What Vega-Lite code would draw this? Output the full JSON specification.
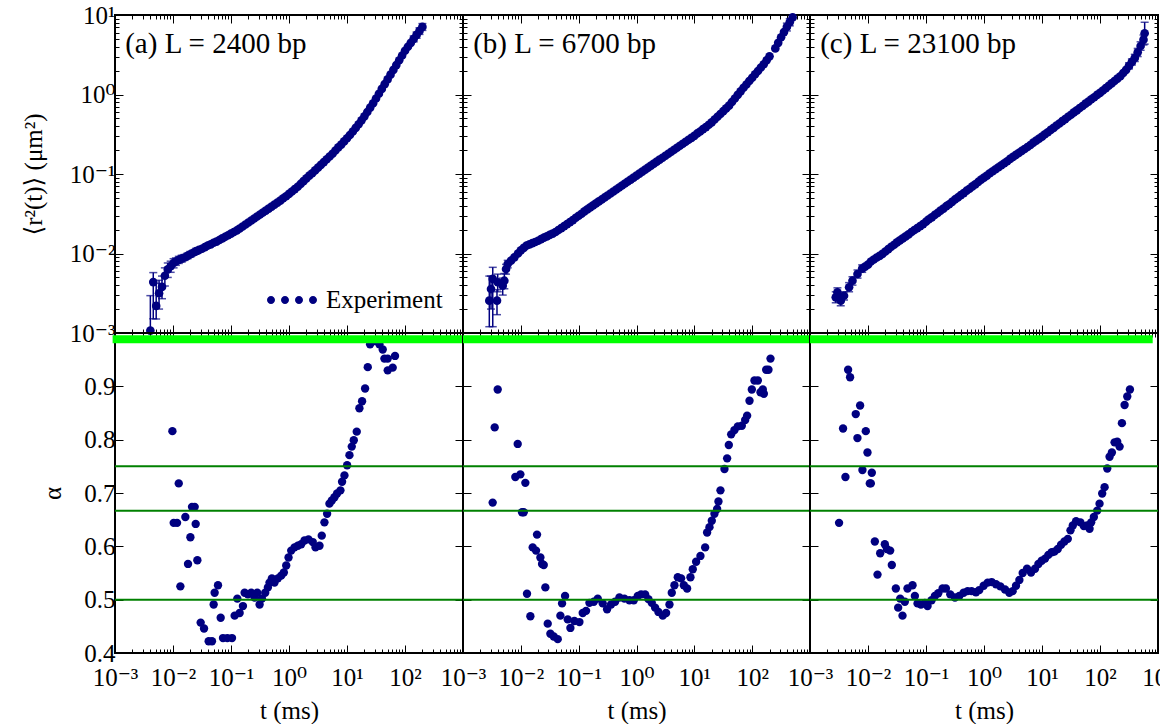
{
  "$schema": "https://vega.github.io/schema/vega-lite/v6.json",
  "background": "white",
  "padding": {"left": 20, "top": 2, "right": 0, "bottom": 0},
  "config": {
    "view": {"stroke": "black", "strokeWidth": 2},
    "font": "Liberation Serif",
    "axis": {
      "domain": false, "grid": false,
      "labelFont": "Liberation Serif, DejaVu Serif", "labelFontSize": 25, "labelColor": "black",
      "titleFont": "Liberation Serif, DejaVu Serif, DejaVu Sans", "titleFontSize": 25, "titleFontWeight": "normal", "titleColor": "black",
      "tickColor": "black", "tickWidth": 1, "labelOverlap": false, "labelFlush": false, "labelBound": false,
      "labelPadding": 6, "titlePadding": 10
    }
  },
  "datasets": {
    "msd": [
      {"p":"a","t":0.00407,"r":0.00107},{"p":"a","t":0.00457,"r":0.00437},{"p":"a","t":0.00513,"r":0.00219},{"p":"a","t":0.00575,"r":0.00316},
      {"p":"a","t":0.00646,"r":0.0038},{"p":"a","t":0.00724,"r":0.00525},{"p":"a","t":0.00813,"r":0.00631},{"p":"a","t":0.00912,"r":0.00692},
      {"p":"a","t":0.01023,"r":0.00759},{"p":"a","t":0.01122,"r":0.00794},{"p":"a","t":0.01259,"r":0.00832},{"p":"a","t":0.01413,"r":0.00861},
      {"p":"a","t":0.01585,"r":0.00891},{"p":"a","t":0.01778,"r":0.00933},{"p":"a","t":0.01995,"r":0.00977},{"p":"a","t":0.02239,"r":0.01023},
      {"p":"a","t":0.02512,"r":0.01072},{"p":"a","t":0.02818,"r":0.01109},{"p":"a","t":0.03162,"r":0.01148},{"p":"a","t":0.03548,"r":0.01202},
      {"p":"a","t":0.03981,"r":0.01259},{"p":"a","t":0.04467,"r":0.01303},{"p":"a","t":0.05012,"r":0.01365},{"p":"a","t":0.05623,"r":0.01413},
      {"p":"a","t":0.0631,"r":0.01479},{"p":"a","t":0.07079,"r":0.01549},{"p":"a","t":0.07943,"r":0.01622},{"p":"a","t":0.08913,"r":0.01698},
      {"p":"a","t":0.1,"r":0.01778},{"p":"a","t":0.1122,"r":0.01862},{"p":"a","t":0.1259,"r":0.0195},{"p":"a","t":0.1413,"r":0.02065},
      {"p":"a","t":0.1585,"r":0.02188},{"p":"a","t":0.1778,"r":0.02317},{"p":"a","t":0.1995,"r":0.02455},{"p":"a","t":0.2239,"r":0.026},
      {"p":"a","t":0.2512,"r":0.02754},{"p":"a","t":0.2818,"r":0.02917},{"p":"a","t":0.3162,"r":0.0309},{"p":"a","t":0.3548,"r":0.03273},
      {"p":"a","t":0.3981,"r":0.03467},{"p":"a","t":0.4467,"r":0.03673},{"p":"a","t":0.5012,"r":0.0389},{"p":"a","t":0.5623,"r":0.04121},
      {"p":"a","t":0.631,"r":0.04365},{"p":"a","t":0.7079,"r":0.04624},{"p":"a","t":0.7943,"r":0.04955},{"p":"a","t":0.8913,"r":0.05248},
      {"p":"a","t":1,"r":0.05623},{"p":"a","t":1.122,"r":0.06026},{"p":"a","t":1.259,"r":0.06457},{"p":"a","t":1.413,"r":0.06918},
      {"p":"a","t":1.585,"r":0.07499},{"p":"a","t":1.778,"r":0.08128},{"p":"a","t":1.995,"r":0.0881},{"p":"a","t":2.239,"r":0.0955},
      {"p":"a","t":2.512,"r":0.1023},{"p":"a","t":2.818,"r":0.1109},{"p":"a","t":3.162,"r":0.1202},{"p":"a","t":3.548,"r":0.1303},
      {"p":"a","t":3.981,"r":0.1413},{"p":"a","t":4.467,"r":0.1531},{"p":"a","t":5.012,"r":0.166},{"p":"a","t":5.623,"r":0.1799},
      {"p":"a","t":6.31,"r":0.1972},{"p":"a","t":7.079,"r":0.2163},{"p":"a","t":7.943,"r":0.2344},{"p":"a","t":8.913,"r":0.257},
      {"p":"a","t":10,"r":0.2818},{"p":"a","t":11.22,"r":0.309},{"p":"a","t":12.59,"r":0.3428},{"p":"a","t":14.13,"r":0.3802},
      {"p":"a","t":15.85,"r":0.4217},{"p":"a","t":17.78,"r":0.4732},{"p":"a","t":19.95,"r":0.5309},{"p":"a","t":22.39,"r":0.6026},
      {"p":"a","t":25.12,"r":0.6839},{"p":"a","t":28.18,"r":0.7762},{"p":"a","t":31.62,"r":0.8913},{"p":"a","t":35.48,"r":1.023},
      {"p":"a","t":39.81,"r":1.175},{"p":"a","t":44.67,"r":1.349},{"p":"a","t":50.12,"r":1.549},{"p":"a","t":56.23,"r":1.778},
      {"p":"a","t":63.1,"r":2.042},{"p":"a","t":70.79,"r":2.344},{"p":"a","t":79.43,"r":2.692},{"p":"a","t":89.13,"r":3.09},
      {"p":"a","t":100,"r":3.548},{"p":"a","t":112.2,"r":3.981},{"p":"a","t":125.9,"r":4.467},{"p":"a","t":141.3,"r":5.012},
      {"p":"a","t":158.5,"r":5.623},{"p":"a","t":177.8,"r":6.31},{"p":"a","t":199.5,"r":7.079},

      {"p":"b","t":0.00285,"r":0.00255},{"p":"b","t":0.00305,"r":0.00357},{"p":"b","t":0.00327,"r":0.00479},{"p":"b","t":0.00387,"r":0.00255},
      {"p":"b","t":0.00398,"r":0.00435},{"p":"b","t":0.00486,"r":0.00394},{"p":"b","t":0.00519,"r":0.00455},{"p":"b","t":0.00555,"r":0.00638},
      {"p":"b","t":0.00593,"r":0.00738},{"p":"b","t":0.00676,"r":0.00813},{"p":"b","t":0.00773,"r":0.00895},{"p":"b","t":0.00891,"r":0.01},
      {"p":"b","t":0.01,"r":0.01096},{"p":"b","t":0.01122,"r":0.01175},{"p":"b","t":0.01259,"r":0.01259},{"p":"b","t":0.01413,"r":0.01303},
      {"p":"b","t":0.01585,"r":0.01349},{"p":"b","t":0.01778,"r":0.01396},{"p":"b","t":0.01995,"r":0.01445},{"p":"b","t":0.02239,"r":0.01514},
      {"p":"b","t":0.02512,"r":0.01585},{"p":"b","t":0.02818,"r":0.01641},{"p":"b","t":0.03162,"r":0.01718},{"p":"b","t":0.03548,"r":0.01778},
      {"p":"b","t":0.03981,"r":0.01862},{"p":"b","t":0.04467,"r":0.01972},{"p":"b","t":0.05012,"r":0.02089},{"p":"b","t":0.05623,"r":0.02213},
      {"p":"b","t":0.0631,"r":0.02344},{"p":"b","t":0.07079,"r":0.02483},{"p":"b","t":0.07943,"r":0.0263},{"p":"b","t":0.08913,"r":0.02818},
      {"p":"b","t":0.1,"r":0.02985},{"p":"b","t":0.1122,"r":0.03162},{"p":"b","t":0.1259,"r":0.03388},{"p":"b","t":0.1413,"r":0.03589},
      {"p":"b","t":0.1585,"r":0.03802},{"p":"b","t":0.1778,"r":0.04027},{"p":"b","t":0.1995,"r":0.04266},{"p":"b","t":0.2239,"r":0.04519},
      {"p":"b","t":0.2512,"r":0.04786},{"p":"b","t":0.2818,"r":0.0507},{"p":"b","t":0.3162,"r":0.0537},{"p":"b","t":0.3548,"r":0.05689},
      {"p":"b","t":0.3981,"r":0.06026},{"p":"b","t":0.4467,"r":0.06383},{"p":"b","t":0.5012,"r":0.06761},{"p":"b","t":0.5623,"r":0.07161},
      {"p":"b","t":0.631,"r":0.07586},{"p":"b","t":0.7079,"r":0.08035},{"p":"b","t":0.7943,"r":0.08511},{"p":"b","t":0.8913,"r":0.09016},
      {"p":"b","t":1,"r":0.0955},{"p":"b","t":1.122,"r":0.1012},{"p":"b","t":1.259,"r":0.1072},{"p":"b","t":1.413,"r":0.1135},
      {"p":"b","t":1.585,"r":0.1202},{"p":"b","t":1.778,"r":0.1274},{"p":"b","t":1.995,"r":0.1349},{"p":"b","t":2.239,"r":0.1429},
      {"p":"b","t":2.512,"r":0.1514},{"p":"b","t":2.818,"r":0.1603},{"p":"b","t":3.162,"r":0.1698},{"p":"b","t":3.548,"r":0.1799},
      {"p":"b","t":3.981,"r":0.1905},{"p":"b","t":4.467,"r":0.2018},{"p":"b","t":5.012,"r":0.2138},{"p":"b","t":5.623,"r":0.2265},
      {"p":"b","t":6.31,"r":0.2399},{"p":"b","t":7.079,"r":0.2541},{"p":"b","t":7.943,"r":0.2692},{"p":"b","t":8.913,"r":0.2851},
      {"p":"b","t":10,"r":0.302},{"p":"b","t":11.22,"r":0.3236},{"p":"b","t":12.59,"r":0.3428},{"p":"b","t":14.13,"r":0.3673},
      {"p":"b","t":15.85,"r":0.389},{"p":"b","t":17.78,"r":0.4169},{"p":"b","t":19.95,"r":0.4467},{"p":"b","t":22.39,"r":0.4842},
      {"p":"b","t":25.12,"r":0.5248},{"p":"b","t":28.18,"r":0.5689},{"p":"b","t":31.62,"r":0.6166},{"p":"b","t":35.48,"r":0.6683},
      {"p":"b","t":39.81,"r":0.7244},{"p":"b","t":44.67,"r":0.8035},{"p":"b","t":50.12,"r":0.8913},{"p":"b","t":56.23,"r":0.9886},
      {"p":"b","t":63.1,"r":1.096},{"p":"b","t":70.79,"r":1.216},{"p":"b","t":79.43,"r":1.334},{"p":"b","t":89.13,"r":1.479},
      {"p":"b","t":100,"r":1.622},{"p":"b","t":112.2,"r":1.799},{"p":"b","t":125.9,"r":1.972},{"p":"b","t":141.3,"r":2.188},
      {"p":"b","t":158.5,"r":2.399},{"p":"b","t":177.8,"r":2.692},{"p":"b","t":199.5,"r":3.02},{"p":"b","t":251.2,"r":3.802},
      {"p":"b","t":281.8,"r":4.467},{"p":"b","t":316.2,"r":5.248},{"p":"b","t":354.8,"r":6.095},{"p":"b","t":398.1,"r":7.079},
      {"p":"b","t":446.7,"r":8.128},{"p":"b","t":501.2,"r":9.333},

      {"p":"c","t":0.00278,"r":0.00281},{"p":"c","t":0.00297,"r":0.00325},{"p":"c","t":0.00339,"r":0.00255},{"p":"c","t":0.00386,"r":0.00294},
      {"p":"c","t":0.00472,"r":0.00376},{"p":"c","t":0.0054,"r":0.00455},{"p":"c","t":0.00659,"r":0.00552},{"p":"c","t":0.00794,"r":0.00646},
      {"p":"c","t":0.00891,"r":0.00684},{"p":"c","t":0.01,"r":0.00724},{"p":"c","t":0.01122,"r":0.00794},{"p":"c","t":0.01259,"r":0.00841},
      {"p":"c","t":0.01413,"r":0.00891},{"p":"c","t":0.01585,"r":0.00933},{"p":"c","t":0.01778,"r":0.00989},{"p":"c","t":0.01995,"r":0.01059},
      {"p":"c","t":0.02239,"r":0.01135},{"p":"c","t":0.02512,"r":0.01216},{"p":"c","t":0.02818,"r":0.01288},{"p":"c","t":0.03162,"r":0.0138},
      {"p":"c","t":0.03548,"r":0.01462},{"p":"c","t":0.03981,"r":0.01549},{"p":"c","t":0.04467,"r":0.01641},{"p":"c","t":0.05012,"r":0.01738},
      {"p":"c","t":0.05623,"r":0.01862},{"p":"c","t":0.0631,"r":0.01972},{"p":"c","t":0.07079,"r":0.02089},{"p":"c","t":0.07943,"r":0.02213},
      {"p":"c","t":0.08913,"r":0.02344},{"p":"c","t":0.1,"r":0.02512},{"p":"c","t":0.1122,"r":0.02692},{"p":"c","t":0.1259,"r":0.02851},
      {"p":"c","t":0.1413,"r":0.03055},{"p":"c","t":0.1585,"r":0.03236},{"p":"c","t":0.1778,"r":0.03467},{"p":"c","t":0.1995,"r":0.03673},
      {"p":"c","t":0.2239,"r":0.03936},{"p":"c","t":0.2512,"r":0.04169},{"p":"c","t":0.2818,"r":0.04467},{"p":"c","t":0.3162,"r":0.04786},
      {"p":"c","t":0.3548,"r":0.0507},{"p":"c","t":0.3981,"r":0.05433},{"p":"c","t":0.4467,"r":0.05754},{"p":"c","t":0.5012,"r":0.06166},
      {"p":"c","t":0.5623,"r":0.06531},{"p":"c","t":0.631,"r":0.06998},{"p":"c","t":0.7079,"r":0.07413},{"p":"c","t":0.7943,"r":0.07943},
      {"p":"c","t":0.8913,"r":0.08511},{"p":"c","t":1,"r":0.09016},{"p":"c","t":1.122,"r":0.0955},{"p":"c","t":1.259,"r":0.1023},
      {"p":"c","t":1.413,"r":0.1084},{"p":"c","t":1.585,"r":0.1148},{"p":"c","t":1.778,"r":0.1216},{"p":"c","t":1.995,"r":0.1288},
      {"p":"c","t":2.239,"r":0.1365},{"p":"c","t":2.512,"r":0.1445},{"p":"c","t":2.818,"r":0.1549},{"p":"c","t":3.162,"r":0.1641},
      {"p":"c","t":3.548,"r":0.1738},{"p":"c","t":3.981,"r":0.1841},{"p":"c","t":4.467,"r":0.195},{"p":"c","t":5.012,"r":0.2065},
      {"p":"c","t":5.623,"r":0.2188},{"p":"c","t":6.31,"r":0.2317},{"p":"c","t":7.079,"r":0.2483},{"p":"c","t":7.943,"r":0.263},
      {"p":"c","t":8.913,"r":0.2786},{"p":"c","t":10,"r":0.2951},{"p":"c","t":11.22,"r":0.3162},{"p":"c","t":12.59,"r":0.335},
      {"p":"c","t":14.13,"r":0.3589},{"p":"c","t":15.85,"r":0.3802},{"p":"c","t":17.78,"r":0.4074},{"p":"c","t":19.95,"r":0.4315},
      {"p":"c","t":22.39,"r":0.4624},{"p":"c","t":25.12,"r":0.4898},{"p":"c","t":28.18,"r":0.5248},{"p":"c","t":31.62,"r":0.5559},
      {"p":"c","t":35.48,"r":0.5957},{"p":"c","t":39.81,"r":0.631},{"p":"c","t":44.67,"r":0.6761},{"p":"c","t":50.12,"r":0.7161},
      {"p":"c","t":56.23,"r":0.7674},{"p":"c","t":63.1,"r":0.8128},{"p":"c","t":70.79,"r":0.871},{"p":"c","t":79.43,"r":0.9226},
      {"p":"c","t":89.13,"r":0.9886},{"p":"c","t":100,"r":1.047},{"p":"c","t":112.2,"r":1.122},{"p":"c","t":125.9,"r":1.202},
      {"p":"c","t":141.3,"r":1.288},{"p":"c","t":158.5,"r":1.38},{"p":"c","t":177.8,"r":1.479},{"p":"c","t":199.5,"r":1.585},
      {"p":"c","t":223.9,"r":1.698},{"p":"c","t":251.2,"r":1.862},{"p":"c","t":281.8,"r":2.042},{"p":"c","t":316.2,"r":2.291},
      {"p":"c","t":354.8,"r":2.57},{"p":"c","t":398.1,"r":2.884},{"p":"c","t":446.7,"r":3.388},{"p":"c","t":501.2,"r":4.074},
      {"p":"c","t":562.3,"r":4.898},{"p":"c","t":588.8,"r":5.888}
    ],
    "err": [
      {"p":"a","t":0.00407,"lo":0.001,"hi":0.00295},{"p":"a","t":0.00457,"lo":0.00151,"hi":0.00575},{"p":"a","t":0.00513,"lo":0.0015,"hi":0.0042},
      {"p":"a","t":0.00575,"lo":0.002,"hi":0.0046},{"p":"a","t":0.00646,"lo":0.0027,"hi":0.0052},{"p":"a","t":0.00724,"lo":0.0039,"hi":0.0066},
      {"p":"a","t":0.00813,"lo":0.005,"hi":0.0076},{"p":"a","t":0.00912,"lo":0.0058,"hi":0.008},{"p":"a","t":0.01023,"lo":0.0066,"hi":0.0086},
      {"p":"a","t":0.01122,"lo":0.0071,"hi":0.0088},{"p":"a","t":0.01259,"lo":0.0075,"hi":0.0092},{"p":"a","t":0.01413,"lo":0.0078,"hi":0.0095},
      {"p":"a","t":0.01585,"lo":0.0082,"hi":0.0097},{"p":"a","t":0.01778,"lo":0.0086,"hi":0.0101},{"p":"a","t":0.01995,"lo":0.009,"hi":0.0106},
      {"p":"a","t":0.02239,"lo":0.0095,"hi":0.011},{"p":"a","t":0.02512,"lo":0.0099,"hi":0.0116},
      {"p":"a","t":141.3,"lo":4.6,"hi":5.45},{"p":"a","t":158.5,"lo":5.1,"hi":6.1},{"p":"a","t":177.8,"lo":5.7,"hi":6.9},{"p":"a","t":199.5,"lo":6.4,"hi":7.8},
      {"p":"b","t":0.00285,"lo":0.0012,"hi":0.0052},{"p":"b","t":0.00305,"lo":0.002,"hi":0.0052},{"p":"b","t":0.00327,"lo":0.0012,"hi":0.0067},
      {"p":"b","t":0.00387,"lo":0.0017,"hi":0.0035},{"p":"b","t":0.00398,"lo":0.0033,"hi":0.0055},{"p":"b","t":0.00486,"lo":0.003,"hi":0.0049},
      {"p":"b","t":0.00519,"lo":0.0036,"hi":0.0056},{"p":"b","t":0.00555,"lo":0.0055,"hi":0.0073},{"p":"b","t":0.00593,"lo":0.0066,"hi":0.0082},
      {"p":"b","t":398.1,"lo":6.3,"hi":7.9},{"p":"b","t":446.7,"lo":7.3,"hi":9.0},
      {"p":"c","t":0.00278,"lo":0.0024,"hi":0.0033},{"p":"c","t":0.00297,"lo":0.0028,"hi":0.0037},{"p":"c","t":0.00339,"lo":0.0022,"hi":0.0029},
      {"p":"c","t":0.00386,"lo":0.0026,"hi":0.0033},{"p":"c","t":0.00472,"lo":0.0033,"hi":0.0043},{"p":"c","t":0.0054,"lo":0.004,"hi":0.0051},
      {"p":"c","t":0.00659,"lo":0.0049,"hi":0.0062},{"p":"c","t":0.00794,"lo":0.0058,"hi":0.0072},
      {"p":"c","t":316.2,"lo":2.1,"hi":2.5},{"p":"c","t":354.8,"lo":2.35,"hi":2.8},{"p":"c","t":398.1,"lo":2.6,"hi":3.2},
      {"p":"c","t":446.7,"lo":3.0,"hi":3.8},{"p":"c","t":501.2,"lo":3.6,"hi":4.6},{"p":"c","t":562.3,"lo":4.2,"hi":5.6},{"p":"c","t":588.8,"lo":4.3,"hi":8.1}
    ],
    "alpha": [
      {"p":"a","t":0.00977,"a":0.816},{"p":"a","t":0.01028,"a":0.644},{"p":"a","t":0.01175,"a":0.644},{"p":"a","t":0.01256,"a":0.718},
      {"p":"a","t":0.0134,"a":0.525},{"p":"a","t":0.01633,"a":0.655},{"p":"a","t":0.01816,"a":0.567},{"p":"a","t":0.01995,"a":0.617},
      {"p":"a","t":0.02128,"a":0.674},{"p":"a","t":0.02366,"a":0.674},{"p":"a","t":0.0246,"a":0.642},{"p":"a","t":0.0263,"a":0.574},
      {"p":"a","t":0.02999,"a":0.457},{"p":"a","t":0.03428,"a":0.446},{"p":"a","t":0.04121,"a":0.422},{"p":"a","t":0.04699,"a":0.422},
      {"p":"a","t":0.05023,"a":0.491},{"p":"a","t":0.05224,"a":0.513},{"p":"a","t":0.0597,"a":0.527},{"p":"a","t":0.06637,"a":0.466},
      {"p":"a","t":0.07278,"a":0.428},{"p":"a","t":0.0865,"a":0.428},{"p":"a","t":0.104,"a":0.428},{"p":"a","t":0.1156,"a":0.47},
      {"p":"a","t":0.1285,"a":0.502},{"p":"a","t":0.1409,"a":0.475},{"p":"a","t":0.1607,"a":0.488},{"p":"a","t":0.1718,"a":0.513},
      {"p":"a","t":0.1959,"a":0.51},{"p":"a","t":0.2234,"a":0.513},{"p":"a","t":0.2553,"a":0.504},{"p":"a","t":0.2838,"a":0.513},
      {"p":"a","t":0.3112,"a":0.491},{"p":"a","t":0.3412,"a":0.502},{"p":"a","t":0.389,"a":0.513},{"p":"a","t":0.4325,"a":0.523},
      {"p":"a","t":0.4613,"a":0.532},{"p":"a","t":0.507,"a":0.54},{"p":"a","t":0.5623,"a":0.532},{"p":"a","t":0.6427,"a":0.54},
      {"p":"a","t":0.7328,"a":0.545},{"p":"a","t":0.8147,"a":0.551},{"p":"a","t":0.8954,"a":0.564},{"p":"a","t":0.9817,"a":0.579},
      {"p":"a","t":1.091,"a":0.592},{"p":"a","t":1.245,"a":0.598},{"p":"a","t":1.419,"a":0.601},{"p":"a","t":1.622,"a":0.604},
      {"p":"a","t":1.849,"a":0.611},{"p":"a","t":2.168,"a":0.613},{"p":"a","t":2.57,"a":0.608},{"p":"a","t":2.864,"a":0.598},
      {"p":"a","t":3.357,"a":0.601},{"p":"a","t":3.673,"a":0.62},{"p":"a","t":4.083,"a":0.645},{"p":"a","t":4.539,"a":0.661},
      {"p":"a","t":4.977,"a":0.68},{"p":"a","t":5.47,"a":0.686},{"p":"a","t":6.081,"a":0.692},{"p":"a","t":6.745,"a":0.699},
      {"p":"a","t":7.709,"a":0.705},{"p":"a","t":8.222,"a":0.721},{"p":"a","t":9.036,"a":0.733},{"p":"a","t":10.05,"a":0.752},
      {"p":"a","t":11.02,"a":0.771},{"p":"a","t":12.08,"a":0.787},{"p":"a","t":13.09,"a":0.799},{"p":"a","t":14.72,"a":0.815},
      {"p":"a","t":16.37,"a":0.859},{"p":"a","t":18.2,"a":0.872},{"p":"a","t":20.51,"a":0.896},{"p":"a","t":22.8,"a":0.936},
      {"p":"a","t":25.0,"a":0.979},{"p":"a","t":29.72,"a":0.985},{"p":"a","t":36.22,"a":0.979},{"p":"a","t":41.3,"a":0.969},
      {"p":"a","t":44.16,"a":0.952},{"p":"a","t":50.35,"a":0.952},{"p":"a","t":50.35,"a":0.93},{"p":"a","t":61.38,"a":0.935},
      {"p":"a","t":67.3,"a":0.957},

      {"p":"b","t":0.003258,"a":0.682},{"p":"b","t":0.003532,"a":0.823},{"p":"b","t":0.003981,"a":0.894},{"p":"b","t":0.008831,"a":0.792},
      {"p":"b","t":0.008035,"a":0.73},{"p":"b","t":0.009817,"a":0.735},{"p":"b","t":0.01197,"a":0.719},{"p":"b","t":0.0105,"a":0.664},
      {"p":"b","t":0.01122,"a":0.664},{"p":"b","t":0.01279,"a":0.511},{"p":"b","t":0.01462,"a":0.469},{"p":"b","t":0.01905,"a":0.622},
      {"p":"b","t":0.01603,"a":0.598},{"p":"b","t":0.01832,"a":0.592},{"p":"b","t":0.02178,"a":0.579},{"p":"b","t":0.02328,"a":0.567},
      {"p":"b","t":0.02489,"a":0.565},{"p":"b","t":0.02655,"a":0.523},{"p":"b","t":0.02917,"a":0.455},{"p":"b","t":0.03243,"a":0.436},
      {"p":"b","t":0.03707,"a":0.431},{"p":"b","t":0.04345,"a":0.426},{"p":"b","t":0.04831,"a":0.47},{"p":"b","t":0.05164,"a":0.493},
      {"p":"b","t":0.05821,"a":0.507},{"p":"b","t":0.06471,"a":0.463},{"p":"b","t":0.07194,"a":0.447},{"p":"b","t":0.08433,"a":0.46},
      {"p":"b","t":0.103,"a":0.458},{"p":"b","t":0.1175,"a":0.475},{"p":"b","t":0.1343,"a":0.479},{"p":"b","t":0.1535,"a":0.494},
      {"p":"b","t":0.1824,"a":0.496},{"p":"b","t":0.2138,"a":0.502},{"p":"b","t":0.2606,"a":0.493},{"p":"b","t":0.3097,"a":0.482},
      {"p":"b","t":0.3631,"a":0.491},{"p":"b","t":0.4266,"a":0.496},{"p":"b","t":0.507,"a":0.504},{"p":"b","t":0.618,"a":0.502},
      {"p":"b","t":0.7551,"a":0.499},{"p":"b","t":0.8974,"a":0.499},{"p":"b","t":1.052,"a":0.507},{"p":"b","t":1.202,"a":0.51},
      {"p":"b","t":1.409,"a":0.51},{"p":"b","t":1.607,"a":0.501},{"p":"b","t":1.837,"a":0.494},{"p":"b","t":2.099,"a":0.485},
      {"p":"b","t":2.393,"a":0.477},{"p":"b","t":2.844,"a":0.47},{"p":"b","t":3.251,"a":0.475},{"p":"b","t":3.715,"a":0.491},
      {"p":"b","t":4.074,"a":0.513},{"p":"b","t":4.529,"a":0.527},{"p":"b","t":5.176,"a":0.542},{"p":"b","t":5.916,"a":0.54},
      {"p":"b","t":6.577,"a":0.527},{"p":"b","t":7.499,"a":0.521},{"p":"b","t":8.57,"a":0.542},{"p":"b","t":9.397,"a":0.557},
      {"p":"b","t":10.74,"a":0.571},{"p":"b","t":12.76,"a":0.582},{"p":"b","t":15.38,"a":0.598},{"p":"b","t":16.63,"a":0.626},
      {"p":"b","t":18.28,"a":0.636},{"p":"b","t":20.04,"a":0.648},{"p":"b","t":22.28,"a":0.661},{"p":"b","t":24.77,"a":0.67},
      {"p":"b","t":26.12,"a":0.684},{"p":"b","t":28.31,"a":0.705},{"p":"b","t":33.19,"a":0.745},{"p":"b","t":36.9,"a":0.765},
      {"p":"b","t":39.45,"a":0.79},{"p":"b","t":43.35,"a":0.81},{"p":"b","t":49.43,"a":0.818},{"p":"b","t":56.49,"a":0.825},
      {"p":"b","t":66.22,"a":0.826},{"p":"b","t":75.68,"a":0.837},{"p":"b","t":81.85,"a":0.845},{"p":"b","t":89.95,"a":0.873},
      {"p":"b","t":98.63,"a":0.894},{"p":"b","t":109.6,"a":0.911},{"p":"b","t":125.3,"a":0.911},{"p":"b","t":139.3,"a":0.889},
      {"p":"b","t":159.2,"a":0.886},{"p":"b","t":152.8,"a":0.894},{"p":"b","t":174.6,"a":0.931},{"p":"b","t":191.4,"a":0.931},
      {"p":"b","t":207.5,"a":0.952},

      {"p":"c","t":0.00317,"a":0.644},{"p":"c","t":0.003715,"a":0.821},{"p":"c","t":0.004083,"a":0.73},{"p":"c","t":0.004539,"a":0.931},
      {"p":"c","t":0.004909,"a":0.917},{"p":"c","t":0.006152,"a":0.848},{"p":"c","t":0.006577,"a":0.803},{"p":"c","t":0.007311,"a":0.864},
      {"p":"c","t":0.008017,"a":0.743},{"p":"c","t":0.009162,"a":0.816},{"p":"c","t":0.009795,"a":0.776},{"p":"c","t":0.01074,"a":0.718},
      {"p":"c","t":0.01164,"a":0.738},{"p":"c","t":0.01119,"a":0.718},{"p":"c","t":0.01312,"a":0.609},{"p":"c","t":0.01459,"a":0.547},
      {"p":"c","t":0.01622,"a":0.587},{"p":"c","t":0.0195,"a":0.604},{"p":"c","t":0.02113,"a":0.595},{"p":"c","t":0.0241,"a":0.592},
      {"p":"c","t":0.02576,"a":0.565},{"p":"c","t":0.0302,"a":0.521},{"p":"c","t":0.03311,"a":0.485},{"p":"c","t":0.03589,"a":0.502},
      {"p":"c","t":0.03936,"a":0.47},{"p":"c","t":0.04315,"a":0.496},{"p":"c","t":0.04797,"a":0.521},{"p":"c","t":0.05861,"a":0.527},
      {"p":"c","t":0.06427,"a":0.507},{"p":"c","t":0.07145,"a":0.493},{"p":"c","t":0.08166,"a":0.491},{"p":"c","t":0.09572,"a":0.494},
      {"p":"c","t":0.1064,"a":0.488},{"p":"c","t":0.1247,"a":0.499},{"p":"c","t":0.1422,"a":0.507},{"p":"c","t":0.1626,"a":0.512},
      {"p":"c","t":0.1932,"a":0.521},{"p":"c","t":0.2203,"a":0.521},{"p":"c","t":0.2618,"a":0.51},{"p":"c","t":0.3155,"a":0.504},
      {"p":"c","t":0.375,"a":0.507},{"p":"c","t":0.4446,"a":0.513},{"p":"c","t":0.5212,"a":0.516},{"p":"c","t":0.6109,"a":0.516},
      {"p":"c","t":0.7261,"a":0.514},{"p":"c","t":0.8299,"a":0.518},{"p":"c","t":0.9863,"a":0.526},{"p":"c","t":1.156,"a":0.532},
      {"p":"c","t":1.355,"a":0.533},{"p":"c","t":1.611,"a":0.529},{"p":"c","t":1.914,"a":0.525},{"p":"c","t":2.301,"a":0.519},
      {"p":"c","t":2.735,"a":0.513},{"p":"c","t":3.119,"a":0.516},{"p":"c","t":3.565,"a":0.526},{"p":"c","t":4.074,"a":0.537},
      {"p":"c","t":4.645,"a":0.55},{"p":"c","t":5.521,"a":0.558},{"p":"c","t":6.471,"a":0.551},{"p":"c","t":7.586,"a":0.558},
      {"p":"c","t":8.67,"a":0.567},{"p":"c","t":9.886,"a":0.573},{"p":"c","t":11.3,"a":0.577},{"p":"c","t":12.88,"a":0.584},
      {"p":"c","t":14.72,"a":0.589},{"p":"c","t":16.37,"a":0.59},{"p":"c","t":18.71,"a":0.595},{"p":"c","t":21.33,"a":0.603},
      {"p":"c","t":24.38,"a":0.609},{"p":"c","t":27.86,"a":0.614},{"p":"c","t":30.97,"a":0.63},{"p":"c","t":33.96,"a":0.639},
      {"p":"c","t":38.73,"a":0.647},{"p":"c","t":46.03,"a":0.645},{"p":"c","t":52.6,"a":0.638},{"p":"c","t":59.98,"a":0.639},
      {"p":"c","t":66.07,"a":0.633},{"p":"c","t":70.47,"a":0.645},{"p":"c","t":78.34,"a":0.655},{"p":"c","t":89.54,"a":0.667},
      {"p":"c","t":98.17,"a":0.68},{"p":"c","t":109.1,"a":0.699},{"p":"c","t":120.0,"a":0.711},{"p":"c","t":133.4,"a":0.746},
      {"p":"c","t":146.2,"a":0.768},{"p":"c","t":160.3,"a":0.776},{"p":"c","t":178.2,"a":0.795},{"p":"c","t":198.2,"a":0.796},
      {"p":"c","t":217.8,"a":0.787},{"p":"c","t":238.8,"a":0.831},{"p":"c","t":265.5,"a":0.865},{"p":"c","t":295.1,"a":0.881},
      {"p":"c","t":328.1,"a":0.894}
    ],
    "levels": [{"a":0.75},{"a":0.6667},{"a":0.5}],
    "band": [
      {"p":"a","a":0.9885,"t0":0.00091,"t1":1000},
      {"p":"b","a":0.9885,"t0":0.001,"t1":1000},
      {"p":"c","a":0.9885,"t0":0.001,"t1":810}
    ],
    "tags": [
      {"p":"a","t":0.0015,"r":4.3,"txt":"(a) L = 2400 bp"},
      {"p":"b","t":0.0015,"r":4.3,"txt":"(b) L = 6700 bp"},
      {"p":"c","t":0.0015,"r":4.3,"txt":"(c) L = 23100 bp"}
    ]
  },
  "columns": 3,
  "spacing": 0,
  "bounds": "flush",
  "resolve": {"scale": {"color": "independent"}, "legend": {"color": "independent"}},
  "concat": [
    {
      "width": 348, "height": 318,
      "resolve": {"axis": {"x": "independent", "y": "independent"}},
      "layer": [
        {
          "data": {"name": "err"}, "transform": [{"filter": "datum.p == 'a'"}],
          "mark": {"type": "errorbar", "color": "#000080", "thickness": 1.5, "size": 8, "ticks": true},
          "encoding": {
            "x": {"field": "t", "type": "quantitative", "scale": {"type": "log", "domain": [0.001, 1000], "nice": false},
              "axis": {"orient": "top", "labels": false, "title": null, "values": [0.001,0.002,0.003,0.004,0.005,0.006,0.007,0.008,0.009,0.01,0.02,0.03,0.04,0.05,0.06,0.07,0.08,0.09,0.1,0.2,0.3,0.4,0.5,0.6,0.7,0.8,0.9,1,2,3,4,5,6,7,8,9,10,20,30,40,50,60,70,80,90,100,200,300,400,500,600,700,800,900,1000],
                "tickSize": {"condition": {"test": "abs(log(datum.value)/LN10 - round(log(datum.value)/LN10)) < 0.01", "value": -8}, "value": -4}}},
            "y": {"field": "lo", "type": "quantitative", "scale": {"type": "log", "domain": [0.001, 10], "nice": false},
              "axis": {"orient": "right", "labels": false, "title": null, "values": [0.001,0.002,0.003,0.004,0.005,0.006,0.007,0.008,0.009,0.01,0.02,0.03,0.04,0.05,0.06,0.07,0.08,0.09,0.1,0.2,0.3,0.4,0.5,0.6,0.7,0.8,0.9,1,2,3,4,5,6,7,8,9,10],
                "tickSize": {"condition": {"test": "abs(log(datum.value)/LN10 - round(log(datum.value)/LN10)) < 0.01", "value": -8}, "value": -4}}},
            "y2": {"field": "hi"}
          }
        },
        {
          "data": {"name": "msd"}, "transform": [{"filter": "datum.p == 'a'"}],
          "mark": {"type": "circle", "size": 75, "opacity": 1},
          "encoding": {
            "x": {"field": "t", "type": "quantitative",
              "axis": {"orient": "bottom", "labels": false, "title": null, "values": [0.001,0.002,0.003,0.004,0.005,0.006,0.007,0.008,0.009,0.01,0.02,0.03,0.04,0.05,0.06,0.07,0.08,0.09,0.1,0.2,0.3,0.4,0.5,0.6,0.7,0.8,0.9,1,2,3,4,5,6,7,8,9,10,20,30,40,50,60,70,80,90,100,200,300,400,500,600,700,800,900,1000],
                "tickSize": {"condition": {"test": "abs(log(datum.value)/LN10 - round(log(datum.value)/LN10)) < 0.01", "value": -8}, "value": -4}}},
            "y": {"field": "r", "type": "quantitative",
              "axis": {"orient": "left", "title": "⟨r²(t)⟩ (μm²)", "titlePadding": 23, "labelPadding": 8, "values": [0.001,0.002,0.003,0.004,0.005,0.006,0.007,0.008,0.009,0.01,0.02,0.03,0.04,0.05,0.06,0.07,0.08,0.09,0.1,0.2,0.3,0.4,0.5,0.6,0.7,0.8,0.9,1,2,3,4,5,6,7,8,9,10],
                "labelExpr": "abs(log(datum.value)/LN10 - round(log(datum.value)/LN10)) < 0.01 ? ['10⁻³','10⁻²','10⁻¹','10⁰','10¹'][round(log(datum.value)/LN10)+3] : ''",
                "tickSize": {"condition": {"test": "abs(log(datum.value)/LN10 - round(log(datum.value)/LN10)) < 0.01", "value": -8}, "value": -4}}},
            "color": {"datum": "Experiment", "type": "nominal", "scale": {"range": ["#000080"]},
              "legend": {"orient": "bottom-right", "title": null, "offset": 20, "padding": 0,
                "symbolType": "M-1,0A0.16,0.16,0,1,0,-0.68,0A0.16,0.16,0,1,0,-1,0Z M-0.44,0A0.16,0.16,0,1,0,-0.12,0A0.16,0.16,0,1,0,-0.44,0Z M0.12,0A0.16,0.16,0,1,0,0.44,0A0.16,0.16,0,1,0,0.12,0Z M0.68,0A0.16,0.16,0,1,0,1,0A0.16,0.16,0,1,0,0.68,0Z",
                "symbolSize": 2500, "symbolFillColor": "#000080", "symbolStrokeWidth": 0, "symbolOpacity": 1,
                "labelFont": "Liberation Serif", "labelFontSize": 25, "labelColor": "black", "labelOffset": 9}}
          }
        },
        {
          "data": {"name": "tags"}, "transform": [{"filter": "datum.p == 'a'"}],
          "mark": {"type": "text", "align": "left", "baseline": "middle", "font": "Liberation Serif", "fontSize": 29, "color": "black"},
          "encoding": {
            "x": {"field": "t", "type": "quantitative", "axis": null},
            "y": {"field": "r", "type": "quantitative", "axis": null},
            "text": {"field": "txt"}
          }
        }
      ]
    },
    {
      "width": 347, "height": 318,
      "resolve": {"axis": {"x": "independent", "y": "independent"}},
      "layer": [
        {
          "data": {"name": "err"}, "transform": [{"filter": "datum.p == 'b'"}],
          "mark": {"type": "errorbar", "color": "#000080", "thickness": 1.5, "size": 8, "ticks": true},
          "encoding": {
            "x": {"field": "t", "type": "quantitative", "scale": {"type": "log", "domain": [0.001, 1000], "nice": false},
              "axis": {"orient": "top", "labels": false, "title": null, "values": [0.001,0.002,0.003,0.004,0.005,0.006,0.007,0.008,0.009,0.01,0.02,0.03,0.04,0.05,0.06,0.07,0.08,0.09,0.1,0.2,0.3,0.4,0.5,0.6,0.7,0.8,0.9,1,2,3,4,5,6,7,8,9,10,20,30,40,50,60,70,80,90,100,200,300,400,500,600,700,800,900,1000],
                "tickSize": {"condition": {"test": "abs(log(datum.value)/LN10 - round(log(datum.value)/LN10)) < 0.01", "value": -8}, "value": -4}}},
            "y": {"field": "lo", "type": "quantitative", "scale": {"type": "log", "domain": [0.001, 10], "nice": false},
              "axis": {"orient": "right", "labels": false, "title": null, "values": [0.001,0.002,0.003,0.004,0.005,0.006,0.007,0.008,0.009,0.01,0.02,0.03,0.04,0.05,0.06,0.07,0.08,0.09,0.1,0.2,0.3,0.4,0.5,0.6,0.7,0.8,0.9,1,2,3,4,5,6,7,8,9,10],
                "tickSize": {"condition": {"test": "abs(log(datum.value)/LN10 - round(log(datum.value)/LN10)) < 0.01", "value": -8}, "value": -4}}},
            "y2": {"field": "hi"}
          }
        },
        {
          "data": {"name": "msd"}, "transform": [{"filter": "datum.p == 'b'"}],
          "mark": {"type": "circle", "size": 75, "opacity": 1, "color": "#000080"},
          "encoding": {
            "x": {"field": "t", "type": "quantitative",
              "axis": {"orient": "bottom", "labels": false, "title": null, "values": [0.001,0.002,0.003,0.004,0.005,0.006,0.007,0.008,0.009,0.01,0.02,0.03,0.04,0.05,0.06,0.07,0.08,0.09,0.1,0.2,0.3,0.4,0.5,0.6,0.7,0.8,0.9,1,2,3,4,5,6,7,8,9,10,20,30,40,50,60,70,80,90,100,200,300,400,500,600,700,800,900,1000],
                "tickSize": {"condition": {"test": "abs(log(datum.value)/LN10 - round(log(datum.value)/LN10)) < 0.01", "value": -8}, "value": -4}}},
            "y": {"field": "r", "type": "quantitative",
              "axis": {"orient": "left", "labels": false, "title": null, "values": [0.001,0.002,0.003,0.004,0.005,0.006,0.007,0.008,0.009,0.01,0.02,0.03,0.04,0.05,0.06,0.07,0.08,0.09,0.1,0.2,0.3,0.4,0.5,0.6,0.7,0.8,0.9,1,2,3,4,5,6,7,8,9,10],
                "tickSize": {"condition": {"test": "abs(log(datum.value)/LN10 - round(log(datum.value)/LN10)) < 0.01", "value": -8}, "value": -4}}}
          }
        },
        {
          "data": {"name": "tags"}, "transform": [{"filter": "datum.p == 'b'"}],
          "mark": {"type": "text", "align": "left", "baseline": "middle", "font": "Liberation Serif", "fontSize": 29, "color": "black"},
          "encoding": {
            "x": {"field": "t", "type": "quantitative", "axis": null},
            "y": {"field": "r", "type": "quantitative", "axis": null},
            "text": {"field": "txt"}
          }
        }
      ]
    },
    {
      "width": 348, "height": 318,
      "resolve": {"axis": {"x": "independent", "y": "independent"}},
      "layer": [
        {
          "data": {"name": "err"}, "transform": [{"filter": "datum.p == 'c'"}],
          "mark": {"type": "errorbar", "color": "#000080", "thickness": 1.5, "size": 8, "ticks": true},
          "encoding": {
            "x": {"field": "t", "type": "quantitative", "scale": {"type": "log", "domain": [0.001, 1000], "nice": false},
              "axis": {"orient": "top", "labels": false, "title": null, "values": [0.001,0.002,0.003,0.004,0.005,0.006,0.007,0.008,0.009,0.01,0.02,0.03,0.04,0.05,0.06,0.07,0.08,0.09,0.1,0.2,0.3,0.4,0.5,0.6,0.7,0.8,0.9,1,2,3,4,5,6,7,8,9,10,20,30,40,50,60,70,80,90,100,200,300,400,500,600,700,800,900,1000],
                "tickSize": {"condition": {"test": "abs(log(datum.value)/LN10 - round(log(datum.value)/LN10)) < 0.01", "value": -8}, "value": -4}}},
            "y": {"field": "lo", "type": "quantitative", "scale": {"type": "log", "domain": [0.001, 10], "nice": false},
              "axis": {"orient": "right", "labels": false, "title": null, "values": [0.001,0.002,0.003,0.004,0.005,0.006,0.007,0.008,0.009,0.01,0.02,0.03,0.04,0.05,0.06,0.07,0.08,0.09,0.1,0.2,0.3,0.4,0.5,0.6,0.7,0.8,0.9,1,2,3,4,5,6,7,8,9,10],
                "tickSize": {"condition": {"test": "abs(log(datum.value)/LN10 - round(log(datum.value)/LN10)) < 0.01", "value": -8}, "value": -4}}},
            "y2": {"field": "hi"}
          }
        },
        {
          "data": {"name": "msd"}, "transform": [{"filter": "datum.p == 'c'"}],
          "mark": {"type": "circle", "size": 75, "opacity": 1, "color": "#000080"},
          "encoding": {
            "x": {"field": "t", "type": "quantitative",
              "axis": {"orient": "bottom", "labels": false, "title": null, "values": [0.001,0.002,0.003,0.004,0.005,0.006,0.007,0.008,0.009,0.01,0.02,0.03,0.04,0.05,0.06,0.07,0.08,0.09,0.1,0.2,0.3,0.4,0.5,0.6,0.7,0.8,0.9,1,2,3,4,5,6,7,8,9,10,20,30,40,50,60,70,80,90,100,200,300,400,500,600,700,800,900,1000],
                "tickSize": {"condition": {"test": "abs(log(datum.value)/LN10 - round(log(datum.value)/LN10)) < 0.01", "value": -8}, "value": -4}}},
            "y": {"field": "r", "type": "quantitative",
              "axis": {"orient": "left", "labels": false, "title": null, "values": [0.001,0.002,0.003,0.004,0.005,0.006,0.007,0.008,0.009,0.01,0.02,0.03,0.04,0.05,0.06,0.07,0.08,0.09,0.1,0.2,0.3,0.4,0.5,0.6,0.7,0.8,0.9,1,2,3,4,5,6,7,8,9,10],
                "tickSize": {"condition": {"test": "abs(log(datum.value)/LN10 - round(log(datum.value)/LN10)) < 0.01", "value": -8}, "value": -4}}}
          }
        },
        {
          "data": {"name": "tags"}, "transform": [{"filter": "datum.p == 'c'"}],
          "mark": {"type": "text", "align": "left", "baseline": "middle", "font": "Liberation Serif", "fontSize": 29, "color": "black"},
          "encoding": {
            "x": {"field": "t", "type": "quantitative", "axis": null},
            "y": {"field": "r", "type": "quantitative", "axis": null},
            "text": {"field": "txt"}
          }
        }
      ]
    },
    {
      "width": 348, "height": 320,
      "resolve": {"axis": {"x": "independent", "y": "independent"}},
      "layer": [
        {
          "data": {"name": "alpha"}, "transform": [{"filter": "datum.p == 'a'"}],
          "mark": {"type": "circle", "size": 70, "opacity": 1, "color": "#000080"},
          "encoding": {
            "x": {"field": "t", "type": "quantitative", "scale": {"type": "log", "domain": [0.001, 1000], "nice": false},
              "axis": {"orient": "bottom", "title": "t (ms)", "labelPadding": 20, "titlePadding": 4, "values": [0.001,0.002,0.003,0.004,0.005,0.006,0.007,0.008,0.009,0.01,0.02,0.03,0.04,0.05,0.06,0.07,0.08,0.09,0.1,0.2,0.3,0.4,0.5,0.6,0.7,0.8,0.9,1,2,3,4,5,6,7,8,9,10,20,30,40,50,60,70,80,90,100,200,300,400,500,600,700,800,900,1000],
                "labelExpr": "abs(log(datum.value)/LN10 - round(log(datum.value)/LN10)) < 0.01 ? ['10⁻³','10⁻²','10⁻¹','10⁰','10¹','10²',''][round(log(datum.value)/LN10)+3] : ''",
                "tickSize": {"condition": {"test": "abs(log(datum.value)/LN10 - round(log(datum.value)/LN10)) < 0.01", "value": -8}, "value": -4}}},
            "y": {"field": "a", "type": "quantitative", "scale": {"domain": [0.4, 1.0], "nice": false, "zero": false},
              "axis": {"orient": "left", "title": "α", "titlePadding": 18, "labelPadding": 8, "values": [0.4,0.5,0.6,0.7,0.8,0.9,1.0],
                "labelExpr": "datum.value > 0.95 ? '' : format(datum.value, '.1f')", "tickSize": -8}}
          }
        },
        {
          "data": {"name": "levels"},
          "mark": {"type": "rule", "color": "#008000", "strokeWidth": 2},
          "encoding": {
            "y": {"field": "a", "type": "quantitative",
              "axis": {"orient": "right", "labels": false, "title": null, "values": [0.4,0.5,0.6,0.7,0.8,0.9,1.0], "tickSize": -8}}
          }
        },
        {
          "data": {"name": "band"}, "transform": [{"filter": "datum.p == 'a'"}],
          "mark": {"type": "rule", "color": "#00ff00", "strokeWidth": 8},
          "encoding": {
            "x": {"field": "t0", "type": "quantitative",
              "axis": {"orient": "top", "labels": false, "title": null, "values": [0.001,0.002,0.003,0.004,0.005,0.006,0.007,0.008,0.009,0.01,0.02,0.03,0.04,0.05,0.06,0.07,0.08,0.09,0.1,0.2,0.3,0.4,0.5,0.6,0.7,0.8,0.9,1,2,3,4,5,6,7,8,9,10,20,30,40,50,60,70,80,90,100,200,300,400,500,600,700,800,900,1000],
                "tickSize": {"condition": {"test": "abs(log(datum.value)/LN10 - round(log(datum.value)/LN10)) < 0.01", "value": -8}, "value": -4}}},
            "x2": {"field": "t1"},
            "y": {"field": "a", "type": "quantitative", "axis": null}
          }
        }
      ]
    },
    {
      "width": 347, "height": 320,
      "resolve": {"axis": {"x": "independent", "y": "independent"}},
      "layer": [
        {
          "data": {"name": "alpha"}, "transform": [{"filter": "datum.p == 'b'"}],
          "mark": {"type": "circle", "size": 70, "opacity": 1, "color": "#000080"},
          "encoding": {
            "x": {"field": "t", "type": "quantitative", "scale": {"type": "log", "domain": [0.001, 1000], "nice": false},
              "axis": {"orient": "bottom", "title": "t (ms)", "labelPadding": 20, "titlePadding": 4, "values": [0.001,0.002,0.003,0.004,0.005,0.006,0.007,0.008,0.009,0.01,0.02,0.03,0.04,0.05,0.06,0.07,0.08,0.09,0.1,0.2,0.3,0.4,0.5,0.6,0.7,0.8,0.9,1,2,3,4,5,6,7,8,9,10,20,30,40,50,60,70,80,90,100,200,300,400,500,600,700,800,900,1000],
                "labelExpr": "abs(log(datum.value)/LN10 - round(log(datum.value)/LN10)) < 0.01 ? ['10⁻³','10⁻²','10⁻¹','10⁰','10¹','10²',''][round(log(datum.value)/LN10)+3] : ''",
                "tickSize": {"condition": {"test": "abs(log(datum.value)/LN10 - round(log(datum.value)/LN10)) < 0.01", "value": -8}, "value": -4}}},
            "y": {"field": "a", "type": "quantitative", "scale": {"domain": [0.4, 1.0], "nice": false, "zero": false},
              "axis": {"orient": "left", "labels": false, "title": null, "values": [0.4,0.5,0.6,0.7,0.8,0.9,1.0], "tickSize": -8}}
          }
        },
        {
          "data": {"name": "levels"},
          "mark": {"type": "rule", "color": "#008000", "strokeWidth": 2},
          "encoding": {
            "y": {"field": "a", "type": "quantitative",
              "axis": {"orient": "right", "labels": false, "title": null, "values": [0.4,0.5,0.6,0.7,0.8,0.9,1.0], "tickSize": -8}}
          }
        },
        {
          "data": {"name": "band"}, "transform": [{"filter": "datum.p == 'b'"}],
          "mark": {"type": "rule", "color": "#00ff00", "strokeWidth": 8},
          "encoding": {
            "x": {"field": "t0", "type": "quantitative",
              "axis": {"orient": "top", "labels": false, "title": null, "values": [0.001,0.002,0.003,0.004,0.005,0.006,0.007,0.008,0.009,0.01,0.02,0.03,0.04,0.05,0.06,0.07,0.08,0.09,0.1,0.2,0.3,0.4,0.5,0.6,0.7,0.8,0.9,1,2,3,4,5,6,7,8,9,10,20,30,40,50,60,70,80,90,100,200,300,400,500,600,700,800,900,1000],
                "tickSize": {"condition": {"test": "abs(log(datum.value)/LN10 - round(log(datum.value)/LN10)) < 0.01", "value": -8}, "value": -4}}},
            "x2": {"field": "t1"},
            "y": {"field": "a", "type": "quantitative", "axis": null}
          }
        }
      ]
    },
    {
      "width": 348, "height": 320,
      "resolve": {"axis": {"x": "independent", "y": "independent"}},
      "layer": [
        {
          "data": {"name": "alpha"}, "transform": [{"filter": "datum.p == 'c'"}],
          "mark": {"type": "circle", "size": 70, "opacity": 1, "color": "#000080"},
          "encoding": {
            "x": {"field": "t", "type": "quantitative", "scale": {"type": "log", "domain": [0.001, 1000], "nice": false},
              "axis": {"orient": "bottom", "title": "t (ms)", "labelPadding": 20, "titlePadding": 4, "values": [0.001,0.002,0.003,0.004,0.005,0.006,0.007,0.008,0.009,0.01,0.02,0.03,0.04,0.05,0.06,0.07,0.08,0.09,0.1,0.2,0.3,0.4,0.5,0.6,0.7,0.8,0.9,1,2,3,4,5,6,7,8,9,10,20,30,40,50,60,70,80,90,100,200,300,400,500,600,700,800,900,1000],
                "labelExpr": "abs(log(datum.value)/LN10 - round(log(datum.value)/LN10)) < 0.01 ? ['10⁻³','10⁻²','10⁻¹','10⁰','10¹','10²','10³'][round(log(datum.value)/LN10)+3] : ''",
                "tickSize": {"condition": {"test": "abs(log(datum.value)/LN10 - round(log(datum.value)/LN10)) < 0.01", "value": -8}, "value": -4}}},
            "y": {"field": "a", "type": "quantitative", "scale": {"domain": [0.4, 1.0], "nice": false, "zero": false},
              "axis": {"orient": "left", "labels": false, "title": null, "values": [0.4,0.5,0.6,0.7,0.8,0.9,1.0], "tickSize": -8}}
          }
        },
        {
          "data": {"name": "levels"},
          "mark": {"type": "rule", "color": "#008000", "strokeWidth": 2},
          "encoding": {
            "y": {"field": "a", "type": "quantitative",
              "axis": {"orient": "right", "labels": false, "title": null, "values": [0.4,0.5,0.6,0.7,0.8,0.9,1.0], "tickSize": -8}}
          }
        },
        {
          "data": {"name": "band"}, "transform": [{"filter": "datum.p == 'c'"}],
          "mark": {"type": "rule", "color": "#00ff00", "strokeWidth": 8},
          "encoding": {
            "x": {"field": "t0", "type": "quantitative",
              "axis": {"orient": "top", "labels": false, "title": null, "values": [0.001,0.002,0.003,0.004,0.005,0.006,0.007,0.008,0.009,0.01,0.02,0.03,0.04,0.05,0.06,0.07,0.08,0.09,0.1,0.2,0.3,0.4,0.5,0.6,0.7,0.8,0.9,1,2,3,4,5,6,7,8,9,10,20,30,40,50,60,70,80,90,100,200,300,400,500,600,700,800,900,1000],
                "tickSize": {"condition": {"test": "abs(log(datum.value)/LN10 - round(log(datum.value)/LN10)) < 0.01", "value": -8}, "value": -4}}},
            "x2": {"field": "t1"},
            "y": {"field": "a", "type": "quantitative", "axis": null}
          }
        }
      ]
    }
  ]
}
